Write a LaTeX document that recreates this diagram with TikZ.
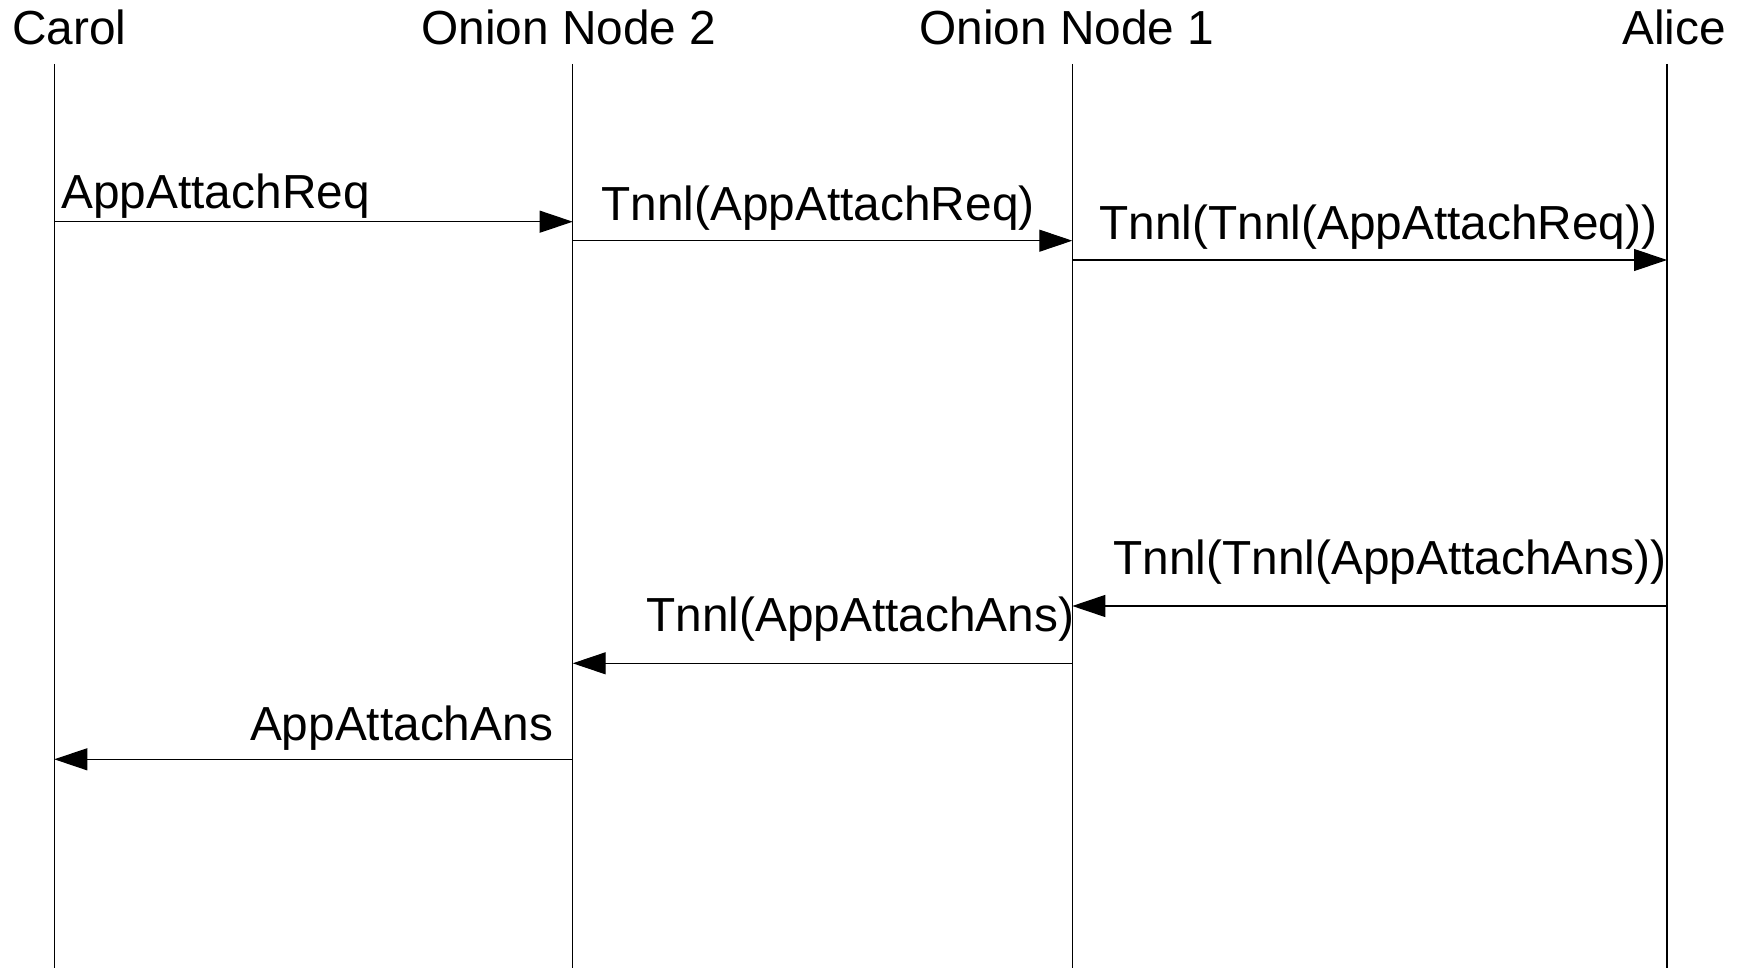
\documentclass[tikz,border=0pt]{standalone}
\usepackage{fontspec}
\setmainfont{Liberation Sans}
\usetikzlibrary{arrows.meta}
\begin{document}
\begin{tikzpicture}[x=1pt,y=-1pt,
  lbl/.style={font=\fontsize{47.8}{57}\selectfont, inner sep=0pt, outer sep=0pt},
  life/.style={line width=1.1pt, draw=black},
  msg/.style={line width=1.1pt, draw=black, -{Triangle[length=33pt,width=22pt]}}]
\useasboundingbox (0,0) rectangle (1738,968);

% participants
\node[lbl, anchor=base west] (carol) at (12.3,44.3) {Carol};
\node[lbl, anchor=base] (on2) at (569,44.3) {Onion Node 2};
\node[lbl, anchor=base] (on1) at (1067,44.3) {Onion Node 1};
\node[lbl, anchor=base east] (alice) at (1726,44.3) {Alice};

% lifelines
\coordinate (cT) at (54.3,64);   \coordinate (cB) at (54.3,968);
\coordinate (n2T) at (572.7,64); \coordinate (n2B) at (572.7,968);
\coordinate (n1T) at (1072.3,64); \coordinate (n1B) at (1072.3,968);
\coordinate (aT) at (1667,64);   \coordinate (aB) at (1667,968);
\draw[life] (cT) -- (cB);
\draw[life] (n2T) -- (n2B);
\draw[life] (n1T) -- (n1B);
\draw[life] (aT) -- (aB);

% message end points
\coordinate (m1a) at (54.3,221.7);   \coordinate (m1b) at (572.7,221.7);
\coordinate (m2a) at (572.7,240.7);  \coordinate (m2b) at (1072.3,240.7);
\coordinate (m3a) at (1072.3,260);   \coordinate (m3b) at (1667,260);
\coordinate (m4a) at (1667,606);     \coordinate (m4b) at (1072.3,606);
\coordinate (m5a) at (1072.3,663.3); \coordinate (m5b) at (572.7,663.3);
\coordinate (m6a) at (572.7,759.3);  \coordinate (m6b) at (54.3,759.3);

% requests
\draw[msg] (m1a) -- (m1b);
\draw[msg] (m2a) -- (m2b);
\draw[msg] (m3a) -- (m3b);
% answers
\draw[msg] (m4a) -- (m4b);
\draw[msg] (m5a) -- (m5b);
\draw[msg] (m6a) -- (m6b);

% message labels
\node[lbl, anchor=base west] (l1) at (61.5,208.3) {AppAttachReq};
\node[lbl, anchor=base west] (l2) at (601.5,221) {Tnnl(AppAttachReq)};
\node[lbl, anchor=base west] (l3) at (1099.5,240) {Tnnl(Tnnl(AppAttachReq))};
\node[lbl, anchor=base west] (l4) at (1113.5,574.3) {Tnnl(Tnnl(AppAttachAns))};
\node[lbl, anchor=base west] (l5) at (646.5,631) {Tnnl(AppAttachAns)};
\node[lbl, anchor=base west] (l6) at (250,740) {AppAttachAns};
\end{tikzpicture}
\end{document}
